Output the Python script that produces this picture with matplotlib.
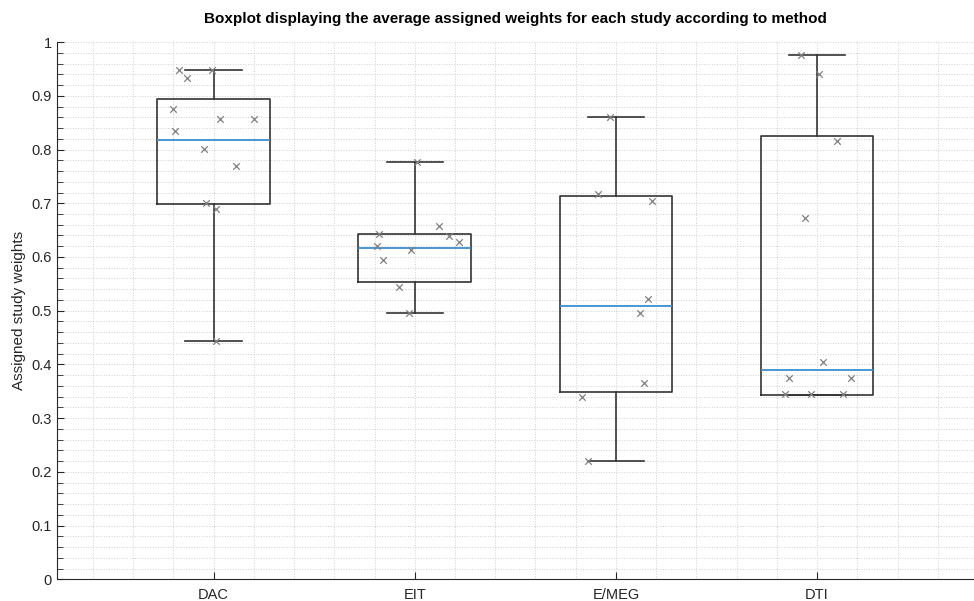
import matplotlib
matplotlib.use("Agg")
import matplotlib.pyplot as plt
from matplotlib.ticker import MultipleLocator

plt.rcParams['font.family'] = ['Liberation Sans', 'DejaVu Sans']

methods = ['DAC', 'EIT', 'E/MEG', 'DTI']

# box statistics
whislo = [0.444, 0.496, 0.220, 0.343]
q1 = [0.698, 0.553, 0.349, 0.343]
med = [0.817, 0.617, 0.508, 0.390]
q3 = [0.894, 0.642, 0.713, 0.825]
whishi = [0.948, 0.776, 0.861, 0.976]

# individual study weights and their horizontal jitter
dac_w = [0.948, 0.948, 0.933, 0.875, 0.856, 0.856, 0.835, 0.801, 0.769, 0.700, 0.690, 0.444]
dac_j = [-0.17, -0.01, -0.13, -0.20, 0.03, 0.20, -0.19, -0.05, 0.11, -0.04, 0.01, 0.01]
eit_w = [0.776, 0.657, 0.642, 0.639, 0.628, 0.621, 0.613, 0.594, 0.545, 0.496]
eit_j = [0.01, 0.12, -0.18, 0.17, 0.22, -0.19, -0.02, -0.16, -0.08, -0.03]
emeg_w = [0.861, 0.718, 0.705, 0.521, 0.496, 0.365, 0.339, 0.220]
emeg_j = [-0.03, -0.09, 0.18, 0.16, 0.12, 0.14, -0.17, -0.14]
dti_w = [0.976, 0.941, 0.816, 0.673, 0.405, 0.374, 0.374, 0.345, 0.345, 0.345]
dti_j = [-0.08, 0.01, 0.10, -0.06, 0.03, -0.14, 0.17, -0.16, -0.03, 0.13]

weights = [dac_w, eit_w, emeg_w, dti_w]
jitter = [dac_j, eit_j, emeg_j, dti_j]

yticks = [0, 0.1, 0.2, 0.3, 0.4, 0.5, 0.6, 0.7, 0.8, 0.9, 1]
ytick_labels = ['0', '0.1', '0.2', '0.3', '0.4', '0.5', '0.6', '0.7', '0.8', '0.9', '1']

fig = plt.figure(figsize=(9.74, 6.01), dpi=100)
ax = fig.add_axes([0.0585, 0.036, 0.9415, 0.894])

stats = []
for i in range(len(methods)):
    stats.append({'whislo': whislo[i], 'q1': q1[i], 'med': med[i],
                  'q3': q3[i], 'whishi': whishi[i], 'fliers': []})

pos = list(range(1, len(methods) + 1))
ax.bxp(stats, positions=pos, widths=0.56, showfliers=False,
       boxprops=dict(color='#333333', linewidth=1.2),
       whiskerprops=dict(color='#333333', linewidth=1.2),
       capprops=dict(color='#333333', linewidth=1.2),
       medianprops=dict(color='#3b8fd0', linewidth=1.3),
       capwidths=0.28, zorder=3)

for i in range(len(methods)):
    xs = [pos[i] + j for j in jitter[i]]
    ax.scatter(xs, weights[i], marker='x', s=22, color='#808080',
               linewidths=0.9, zorder=4)

ax.set_xlim(0.2214, 4.78)
ax.set_ylim(0, 1)
ax.set_xticks(pos)
ax.set_xticklabels(methods)
ax.set_yticks(yticks)
ax.set_yticklabels(ytick_labels)
ax.yaxis.set_minor_locator(MultipleLocator(0.02))
ax.xaxis.set_minor_locator(MultipleLocator(0.2))

ax.grid(True, which='both', linestyle=':', color='#cfcfcf', linewidth=0.7)
ax.set_axisbelow(True)
ax.tick_params(which='both', direction='in', colors='#262626', labelsize=10.5)
ax.tick_params(axis='x', which='minor', length=0)
ax.tick_params(axis='x', which='major', pad=6)
ax.tick_params(axis='y', which='minor', length=4)
ax.tick_params(which='major', length=5)
for s in ['top', 'right']:
    ax.spines[s].set_visible(False)
for s in ['left', 'bottom']:
    ax.spines[s].set_color('#262626')

ax.set_ylabel('Assigned study weights', fontsize=11, color='#262626')
ax.set_title('Boxplot displaying the average assigned weights for each study according to method',
             fontsize=11, fontweight='bold', pad=14)

fig.savefig('out.png', dpi=100)
